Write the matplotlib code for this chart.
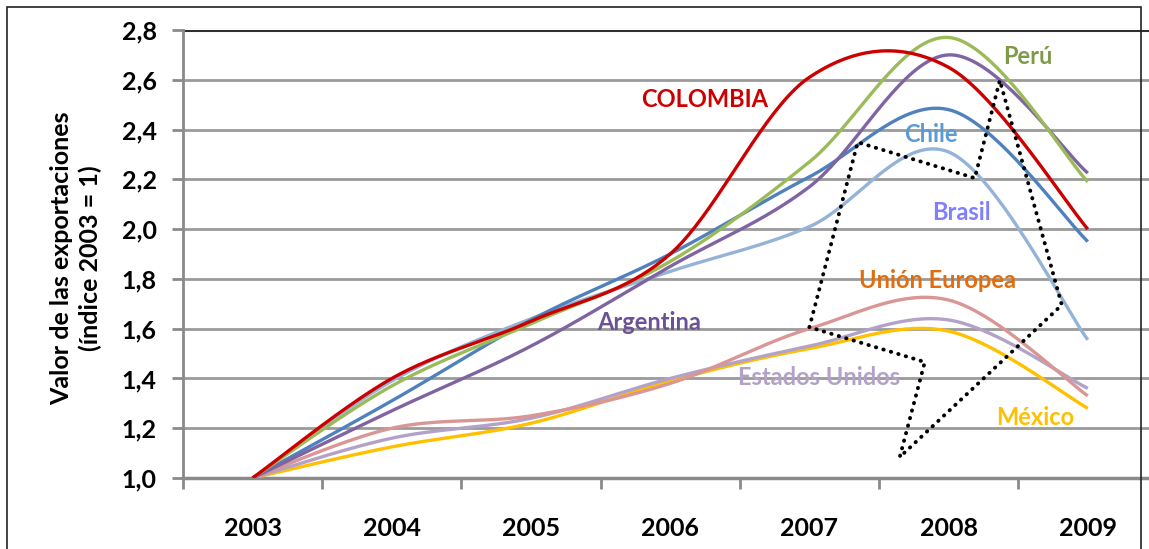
import numpy as np
import matplotlib
matplotlib.use("Agg")
import matplotlib.pyplot as plt
from matplotlib.patches import Rectangle

years = [2003, 2004, 2005, 2006, 2007, 2008, 2009]
colombia = [1.00, 1.40, 1.63, 1.90, 2.61, 2.65, 2.00]
peru = [1.00, 1.37, 1.62, 1.87, 2.27, 2.77, 2.19]
argentina = [1.00, 1.27, 1.53, 1.85, 2.17, 2.70, 2.225]
chile = [1.00, 1.31, 1.635, 1.90, 2.21, 2.48, 1.95]
brasil = [1.00, 1.39, 1.64, 1.83, 2.01, 2.31, 1.555]
union_europea = [1.00, 1.20, 1.25, 1.38, 1.60, 1.715, 1.33]
estados_unidos = [1.00, 1.16, 1.24, 1.40, 1.53, 1.635, 1.36]
mexico = [1.00, 1.125, 1.22, 1.39, 1.52, 1.59, 1.28]
y_ticks = [1.0, 1.2, 1.4, 1.6, 1.8, 2.0, 2.2, 2.4, 2.6, 2.8]
y_tick_labels = ["1,0", "1,2", "1,4", "1,6", "1,8", "2,0", "2,2", "2,4", "2,6", "2,8"]
dotted_x = [2007.00, 2007.347, 2008.188, 2008.368, 2008.813, 2007.649, 2007.829, 2007.00]
dotted_y = [1.606, 2.349, 2.205, 2.598, 1.695, 1.084, 1.466, 1.606]

series = [
    ("México", mexico, "#FFC000"),
    ("Estados Unidos", estados_unidos, "#B3A2C7"),
    ("Unión Europea", union_europea, "#D99694"),
    ("Brasil", brasil, "#95B3D7"),
    ("Chile", chile, "#4F81BD"),
    ("Argentina", argentina, "#8064A2"),
    ("Perú", peru, "#9BBB59"),
    ("COLOMBIA", colombia, "#CC0000"),
]


def smooth(xs, ys, n=40):
    xs = np.asarray(xs, float)
    ys = np.asarray(ys, float)
    ox, oy = [], []
    m = len(xs)
    for i in range(m - 1):
        p0 = i - 1 if i > 0 else i
        p3 = i + 2 if i + 2 < m else i + 1
        x1, y1 = xs[i], ys[i]
        x2, y2 = xs[i + 1], ys[i + 1]
        cx1 = x1 + (x2 - xs[p0]) / 6
        cy1 = y1 + (y2 - ys[p0]) / 6
        cx2 = x2 - (xs[p3] - x1) / 6
        cy2 = y2 - (ys[p3] - y1) / 6
        t = np.linspace(0, 1, n)
        bx = (1 - t) ** 3 * x1 + 3 * (1 - t) ** 2 * t * cx1 + 3 * (1 - t) * t ** 2 * cx2 + t ** 3 * x2
        by = (1 - t) ** 3 * y1 + 3 * (1 - t) ** 2 * t * cy1 + 3 * (1 - t) * t ** 2 * cy2 + t ** 3 * y2
        ox.extend(bx)
        oy.extend(by)
    return np.array(ox), np.array(oy)


plt.rcParams['font.family'] = ['Lato', 'DejaVu Sans']
fig = plt.figure(figsize=(11.49, 5.49), dpi=100)
ax = fig.add_axes([183 / 1149, 71 / 549, 974.4 / 1149, 448 / 549])
ax.set_xlim(2002.5, 2009.5)
ax.set_ylim(1.0, 2.8)

for v in y_ticks[1:]:
    ax.axhline(v, color="#9A9A9A" if v < 2.75 else "#303030", lw=2.0 if v < 2.75 else 2.2, zorder=1)

for name, vals, col in series:
    sx, sy = smooth(years, vals)
    ax.plot(sx, sy, color=col, lw=2.4, solid_capstyle="butt", zorder=3)

ax.plot(dotted_x, dotted_y, color="black", lw=2.8, linestyle=(0, (0.1, 1.9)),
        dash_capstyle="round", zorder=4)

labels = [
    ("COLOMBIA", 2006.25, 2.52, "#CC0000"),
    ("Perú", 2008.57, 2.695, "#7F9A48"),
    ("Chile", 2007.87, 2.38, "#5B9BD5"),
    ("Brasil", 2008.09, 2.065, "#8080FF"),
    ("Unión Europea", 2007.92, 1.795, "#E46C0A"),
    ("Argentina", 2005.85, 1.625, "#6A5294"),
    ("Estados Unidos", 2007.07, 1.405, "#B3A2C7"),
    ("México", 2008.62, 1.245, "#FFC000"),
]
for txt, x, y, c in labels:
    ax.text(x, y, txt, color=c, fontsize=17, fontweight="bold", ha="center", va="center", zorder=5)

ax.set_yticks(y_ticks)
ax.set_yticklabels(y_tick_labels, fontsize=18, fontweight="bold")
ax.set_xticks(years)
ax.set_xticklabels([str(y) for y in years], fontsize=18, fontweight="bold")
ax.set_xticks(np.arange(2002.5, 2009.6, 1.0), minor=True)
ax.tick_params(axis="x", which="major", length=0, pad=28)
ax.tick_params(axis="x", which="minor", length=8, width=2, color="#8A8A8A")
ax.tick_params(axis="y", length=8, width=2, color="#8A8A8A", pad=11)

for s in ["top", "right"]:
    ax.spines[s].set_visible(False)
ax.spines["left"].set_color("#8A8A8A")
ax.spines["left"].set_linewidth(2)
ax.spines["bottom"].set_color("#8A8A8A")
ax.spines["bottom"].set_linewidth(2.5)

fig.text(62 / 1149, 1 - 258 / 549, "Valor de las exportaciones", rotation=90, fontsize=18,
         fontweight="bold", ha="center", va="center")
fig.text(90 / 1149, 1 - 258 / 549, "(índice 2003 = 1)", rotation=90, fontsize=18,
         fontweight="bold", ha="center", va="center")

fig.patches.append(Rectangle((7 / 1149, -0.01), (1141 - 7) / 1149, 1 - 7 / 549 + 0.01,
                             transform=fig.transFigure, fill=False, edgecolor="#222222", lw=1.2))

fig.savefig("out.png", dpi=100)
